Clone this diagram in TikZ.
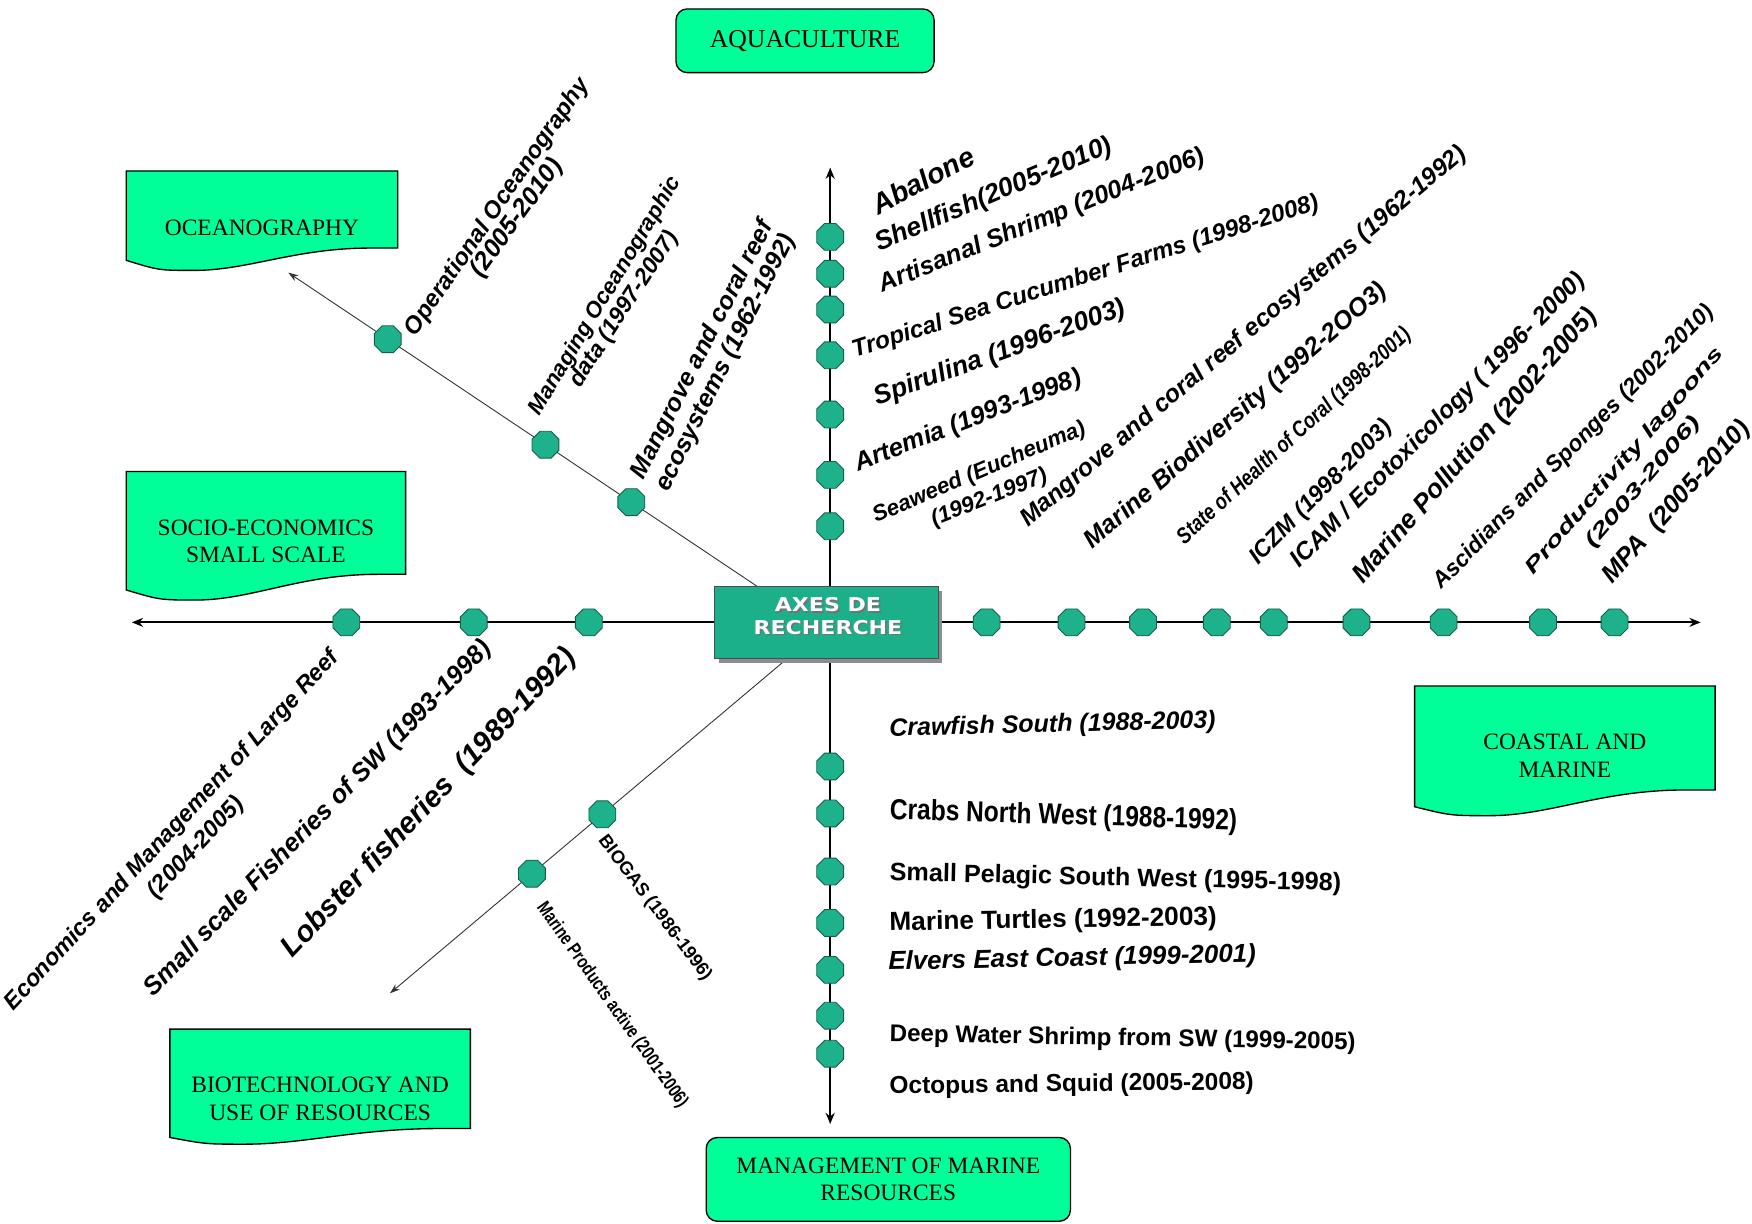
\documentclass[tikz,border=0pt]{standalone}
\usepackage{graphicx}
\usepackage{fontspec}
\setmainfont{Liberation Serif}
\newfontfamily\labf{Liberation Sans}
\newfontfamily\heavyf{DejaVu Sans}
\usetikzlibrary{arrows.meta,shapes.geometric,shadows,backgrounds}
\definecolor{catgreen}{RGB}{0,255,153}
\definecolor{dotfill}{RGB}{30,178,140}
\definecolor{dotdraw}{RGB}{20,95,70}
\definecolor{axfill}{RGB}{28,176,138}

\newcommand\LI[2]{\resizebox{#1pt}{!}{\labf\bfseries\itshape\fontsize{20}{20}\selectfont #2}}
\newcommand\LU[2]{\resizebox{#1pt}{!}{\labf\bfseries\fontsize{20}{20}\selectfont #2}}
\newcommand\LIH[3]{\resizebox{#1pt}{\height}{\labf\bfseries\itshape\fontsize{#2}{#2}\selectfont #3}}
\newcommand\LUH[3]{\resizebox{#1pt}{\height}{\labf\bfseries\fontsize{#2}{#2}\selectfont #3}}
\newcommand\AX[2]{\resizebox{#1pt}{\height}{\heavyf\bfseries\fontsize{17}{17}\selectfont #2}}

\newcommand\docbox[9]{%
  \draw[catbox] (#2,#3) -- (#4,#3) -- (#4,#5) -- ({#2+0.9*(#4-#2)},#5)
    .. controls ({#2+0.62*(#4-#2)},#5) and ({#2+0.45*(#4-#2)},#7) .. ({#2+0.25*(#4-#2)},#7)
    .. controls ({#2+0.12*(#4-#2)},#7) .. (#2,#6) -- cycle;
  \node[cattext] (#1) at ({(#2+#4)/2},#8) {#9};}

\begin{document}
\begin{tikzpicture}[x=1pt,y=-1pt,
  catbox/.style={draw=black, line width=1.2pt, fill=catgreen},
  cattext/.style={align=center, inner sep=0pt, font=\fontsize{21}{25}\selectfont},
  rbox/.style={draw=black, line width=1.2pt, fill=catgreen, rounded corners=10pt, align=center, inner sep=0pt, font=\fontsize{21}{25}\selectfont},
  dot/.style={regular polygon, regular polygon sides=8, minimum size=26pt, inner sep=0pt, fill=dotfill, draw=dotdraw, line width=0.8pt},
  axline/.style={line width=2pt, -{Stealth[length=10pt,width=8pt]}},
  thinline/.style={line width=0.8pt, draw=black!80, -{Stealth[length=9pt,width=6pt]}},
  lab/.style={inner sep=0pt, anchor=base west},
  axtext/.style={inner sep=0pt, text=white},
  axshadow/.style={inner sep=0pt, text=black!55},
]
\useasboundingbox (0,0) rectangle (1568,1095);

% category boxes
\docbox{ocean}{113}{153}{356}{222}{233}{242}{204}{OCEANOGRAPHY}
\docbox{socio}{113}{422}{363}{514}{528}{537}{484.5}{SOCIO-ECONOMICS\\SMALL SCALE}
\docbox{biotech}{152}{921}{421}{1010}{1018}{1024}{983.5}{BIOTECHNOLOGY AND\\USE OF RESOURCES}
\docbox{coastal}{1266}{614}{1535}{707}{722}{730}{676}{COASTAL AND\\MARINE}
\node[rbox, minimum width=231pt, minimum height=57pt, font=\fontsize{23}{25}\selectfont] (aqua) at (720.5,36.5) {AQUACULTURE};
\node[rbox, minimum width=326pt, minimum height=75pt] (mgmt) at (795,1055.5) {MANAGEMENT OF MARINE\\RESOURCES};

% central box
\node[draw=black!70, line width=0.8pt, fill=axfill, minimum width=200pt, minimum height=64pt,
      drop shadow={shadow xshift=4pt, shadow yshift=-4pt, fill=black!45, opacity=1}] (axes) at (739.5,557) {};
\node[axshadow] (axs1) at (742.5,543) {\AX{95}{AXES DE}};
\node[axshadow] (axs2) at (742.5,563) {\AX{133}{RECHERCHE}};
\node[axtext] (axt1) at (741,541.5) {\AX{95}{AXES DE}};
\node[axtext] (axt2) at (741,561.5) {\AX{133}{RECHERCHE}};

% axis ends
\coordinate (topend) at (743,150);
\coordinate (botend) at (743,1006);
\coordinate (leftend) at (118,557);
\coordinate (rightend) at (1522,557);
\coordinate (nwstart) at (678,525);
\coordinate (nwend) at (258,244);
\coordinate (swstart) at (705,589);
\coordinate (swend) at (349,889);

% nodes on axes
\foreach \y [count=\i] in {212,245,277,318,371,425,471} \node[dot] (a\i) at (743,\y) {};
\foreach \x [count=\i] in {883,959,1023,1089,1140,1214,1292,1381,1445} \node[dot] (c\i) at (\x,557) {};
\foreach \x [count=\i] in {310,424,527} \node[dot] (s\i) at (\x,557) {};
\foreach \y [count=\i] in {686,728,780,826,868,909,943} \node[dot] (m\i) at (743,\y) {};
\path (nwstart) -- (nwend) node[dot, pos=0.269] (o3) {} node[dot, pos=0.452] (o2) {} node[dot, pos=0.788] (o1) {};
\path (swstart) -- (swend) node[dot, pos=0.466] (b1) {} node[dot, pos=0.643] (b2) {};

\begin{scope}[on background layer]
  \fill[white] (0,0) rectangle (1568,1095);
  \draw[axline] (axes.north -| topend) -- (topend);
  \draw[axline] (axes.south -| botend) -- (botend);
  \draw[axline] (axes.west |- leftend) -- (leftend);
  \draw[axline] (axes.east |- rightend) -- (rightend);
  \draw[thinline] (nwstart) -- (nwend);
  \draw[thinline] (swstart) -- (swend);
\end{scope}

% aquaculture labels
\node[lab, rotate=28] (t1) at (786,193) {\LI{100}{Abalone}};
\node[lab, rotate=23] (t2) at (787,225) {\LI{228}{Shellfish(2005-2010)}};
\node[lab, rotate=22] (t3) at (790,262) {\LI{312}{Artisanal Shrimp (2004-2006)}};
\node[lab, rotate=17.7] (t4) at (765,320) {\LI{437}{Tropical Sea Cucumber Farms (1998-2008)}};
\node[lab, rotate=20] (t5) at (785,363) {\LI{238}{Spirulina (1996-2003)}};
\node[lab, rotate=21.3] (t6) at (768,422) {\LI{216}{Artemia (1993-1998)}};
\node[lab, rotate=23] (t7) at (784,468) {\LI{205}{Seaweed (Eucheuma)}};
\node[lab, rotate=21.5] (t8) at (836,471) {\LI{110}{(1992-1997)}};

% coastal labels
\node[lab, rotate=40.2] (r1) at (920,472) {\LI{515}{Mangrove and coral reef ecosystems (1962-1992)}};
\node[lab, rotate=41] (r2) at (978,492) {\LI{350}{Marine Biodiversity (1992-2OO3)}};
\node[lab, rotate=42.5] (r3) at (1060,488) {\LIH{276}{20}{State of Health of Coral (1998-2001)}};
\node[lab, rotate=45.5] (r4) at (1126,506) {\LI{172}{ICZM (1998-2003)}};
\node[lab, rotate=45] (r5) at (1163,509) {\LI{363}{ICAM / Ecotoxicology ( 1996- 2000)}};
\node[lab, rotate=48.7] (r6) at (1220,523) {\LI{318}{Marine Pollution (2002-2005)}};
\node[lab, rotate=45.4] (r7) at (1290,528) {\LI{348}{Ascidians and Sponges (2002-2010)}};
\node[lab, rotate=49.2] (r8) at (1372,515) {\LIH{262}{18}{Productivity lagoons}};
\node[lab, rotate=49.2] (r9) at (1426,491) {\LIH{148}{18}{(2003-2006)}};
\node[lab, rotate=48.2] (r10) at (1443,523) {\LI{186}{MPA\ \ (2005-2010)}};

% socio-economics labels
\node[lab, rotate=47.2] (e1) at (12,905) {\LI{430}{Economics and Management of Large Reef}};
\node[lab, rotate=47] (e2) at (140,805) {\LI{116}{(2004-2005)}};
\node[lab, rotate=45.7] (e3) at (137,893) {\LI{435}{Small scale Fisheries of SW (1993-1998)}};
\node[lab, rotate=46.6] (e4) at (262,858) {\LI{370}{Lobster fisheries\ \ (1989-1992)}};

% oceanography labels
\node[lab, rotate=55.5] (n1) at (372,302) {\LI{275}{Operational Oceanography}};
\node[lab, rotate=54] (n2) at (431,249) {\LI{124}{(2005-2010)}};
\node[lab, rotate=59] (n3) at (483,373) {\LI{245}{Managing Oceanographic}};
\node[lab, rotate=57] (n4) at (519,348) {\LI{162}{data (1997-2007)}};
\node[lab, rotate=63] (n5) at (576,430) {\LI{256}{Mangrove and coral reef}};
\node[lab, rotate=63.5] (n6) at (598,441) {\LI{254}{ecosystems (1962-1992)}};

% biotechnology labels
\node[lab, rotate=-53] (bt1) at (535,752) {\LU{158}{BIOGAS (1986-1996)}};
\node[lab, rotate=-54.6] (bt2) at (480,812) {\LUH{221}{17}{Marine Products active (2001-2006)}};

% management labels
\node[lab, rotate=1.5] (d1) at (796,659) {\LI{292}{Crawfish South (1988-2003)}};
\node[lab, rotate=-1.8] (d2) at (796,733) {\LUH{311}{26}{Crabs North West (1988-1992)}};
\node[lab, rotate=-1.3] (d3) at (796,788) {\LU{404}{Small Pelagic South West (1995-1998)}};
\node[lab, rotate=1] (d4) at (796,833) {\LU{293}{Marine Turtles (1992-2003)}};
\node[lab, rotate=1.2] (d5) at (795,868) {\LI{329}{Elvers East Coast (1999-2001)}};
\node[lab, rotate=-1] (d6) at (796,932) {\LU{417}{Deep Water Shrimp from SW (1999-2005)}};
\node[lab, rotate=0.7] (d7) at (796,979) {\LU{326}{Octopus and Squid (2005-2008)}};
\end{tikzpicture}
\end{document}
